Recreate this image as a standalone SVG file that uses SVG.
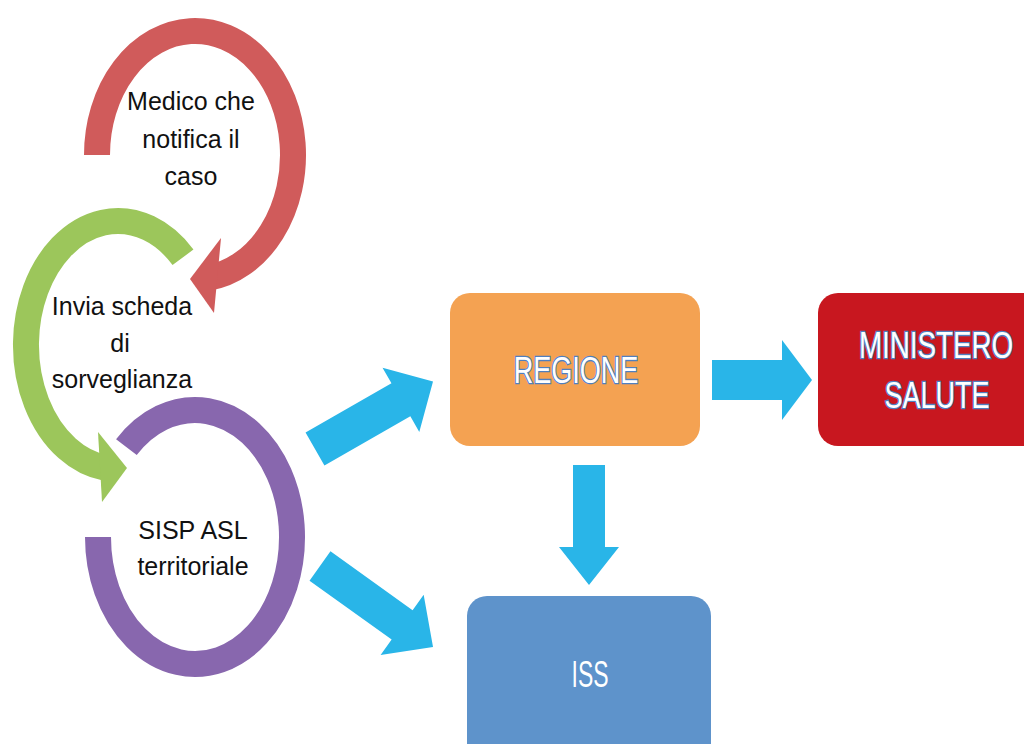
<svg xmlns="http://www.w3.org/2000/svg" width="1024" height="744" viewBox="0 0 1024 744">
<style>
.lbl{font-family:"Liberation Sans",Arial,sans-serif;font-size:25px;fill:#111;text-anchor:middle}
.arc{fill:none;stroke-width:26;stroke-linecap:butt}
.big{font-family:"Liberation Sans",Arial,sans-serif;font-size:37px;fill:#fff;stroke:#4F7FC0;stroke-width:2.6;paint-order:stroke;text-anchor:middle}
.conn{fill:#29B5E8}
</style>
<rect width="1024" height="744" fill="#ffffff"/>
<g id="medico">
<path class="arc" stroke="#D05B5B" d="M97,155 A98,124 0 1 1 208.6,277.8"/>
<polygon fill="#D05B5B" points="221,238 190,279 214,313"/>
<text class="lbl" x="191" y="110">Medico che</text>
<text class="lbl" x="191" y="148">notifica il</text>
<text class="lbl" x="191" y="185">caso</text>
</g>
<g id="invia">
<path class="arc" stroke="#9CC65B" d="M183,257.3 A92,124 0 1 0 105.2,467.8"/>
<polygon fill="#9CC65B" points="98,432 127,468 102,502"/>
<text class="lbl" x="122" y="315">Invia scheda</text>
<text class="lbl" x="120" y="352">di</text>
<text class="lbl" x="122" y="388">sorveglianza</text>
</g>
<g id="sisp">
<path class="arc" stroke="#8867AE" d="M126.4,447.2 A97,127 0 1 1 98,537"/>
<text class="lbl" x="193" y="539">SISP ASL</text>
<text class="lbl" x="193" y="575">territoriale</text>
</g>
<g id="regione">
<rect x="450" y="293" width="250" height="153" rx="20" fill="#F4A252"/>
<text class="big" transform="translate(576,383) scale(0.73,1)">REGIONE</text>
</g>
<g id="ministero">
<path d="M1024,293 L838,293 A20,20 0 0 0 818,313 L818,426 A20,20 0 0 0 838,446 L1024,446 Z" fill="#C8171F"/>
<text class="big" transform="translate(936,358) scale(0.75,1)">MINISTERO</text>
<text class="big" transform="translate(937,408) scale(0.73,1)">SALUTE</text>
</g>
<g id="iss">
<path d="M467,744 L467,616 A20,20 0 0 1 487,596 L691,596 A20,20 0 0 1 711,616 L711,744 Z" fill="#5E93CB"/>
<text transform="translate(590,687) scale(0.62,1)" font-family="Liberation Sans, Arial, sans-serif" font-size="37" fill="#fff" text-anchor="middle">ISS</text>
</g>
<g id="connectors">
<path class="conn" transform="translate(315,449) rotate(-29.8)" d="M0,-19 L99,-19 L99,-37 L136,0 L99,37 L99,19 L0,19 Z"/>
<path class="conn" transform="translate(320,566) rotate(35.6)" d="M0,-18 L101,-18 L101,-37 L139,0 L101,37 L101,18 L0,18 Z"/>
<polygon class="conn" points="573,465 605,465 605,547 619,547 589,585 559,547 573,547"/>
<polygon class="conn" points="712,360 782,360 782,340 812,380 782,420 782,400 712,400"/>
</g>
</svg>
